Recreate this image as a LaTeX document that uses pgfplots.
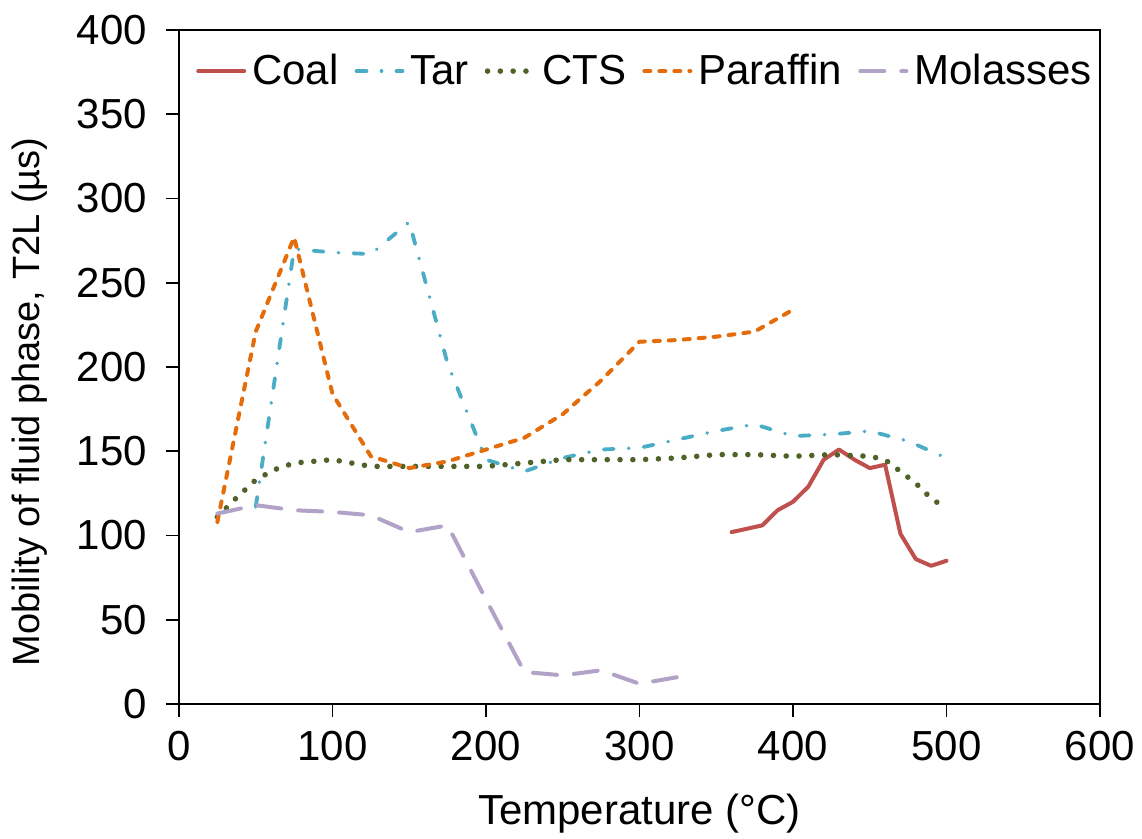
\documentclass[border=0pt]{standalone}
\usepackage{pgfplots}
\pgfplotsset{compat=1.18}
\usepackage{fontspec}
\setmainfont{Liberation Sans}
\definecolor{coal}{HTML}{C0504D}
\definecolor{tar}{HTML}{4BACC6}
\definecolor{cts}{HTML}{4F6228}
\definecolor{paraffin}{HTML}{E46C0A}
\definecolor{molasses}{HTML}{B3A2C7}
\newcommand{\bigf}{\fontsize{21}{25}\selectfont}
\begin{document}
\begin{tikzpicture}
\path (-89.5pt,-67.5pt) rectangle (481.5pt,352pt);
\begin{axis}[
  at={(0,0)}, anchor=south west,
  scale only axis, width=460.5pt, height=337pt,
  xmin=0, xmax=600, ymin=0, ymax=400,
  xtick={0,100,...,600}, ytick={0,50,...,400},
  axis line style={line width=0.9pt},
  tick style={black, line width=0.9pt},
  major tick length=6.5pt, tick align=outside,
  xtick pos=bottom, ytick pos=left,
  /pgf/number format/assume math mode=true,
  tick label style={font=\bigf},
  yticklabel style={xshift=-6pt},
  xticklabel style={yshift=-3.5pt},
  xlabel={Temperature (°C)},
  ylabel={Mobility of fluid phase, T2L (µs)},
  xlabel style={font=\bigf, at={(axis description cs:0.5,0)}, anchor=north, inner sep=0pt, yshift=-45pt},
  ylabel style={font=\fontsize{19}{23}\selectfont, at={(axis description cs:-0.1813,0.448)}, anchor=north, inner sep=0pt, rotate=0},
  legend style={draw=none, fill=none, font=\bigf, legend columns=-1,
    at={(axis description cs:0.5,1)}, anchor=north, xshift=3pt, yshift=-8pt,
    nodes={inner xsep=1.5pt, inner ysep=2pt},
    /tikz/every odd column/.append style={column sep=1.5pt},
    /tikz/every even column/.append style={column sep=6.5pt}},
  legend image code/.code={\draw[#1] (0pt,0pt) -- (23pt,0pt);},
  every axis plot/.append style={line join=round, line cap=round},
]
\addplot[coal, line width=2pt] coordinates {
(360,102) (370,104) (380,106) (390,115) (400,120) (410,129) (420,145) (430,151)
(440,145) (450,140) (460,142) (470,101) (480,86) (490,82) (500,85)};
\addlegendentry{Coal}
\addplot[tar, line width=1.9pt, dash pattern=on 5pt off 7.5pt on 0.01pt off 7.5pt] coordinates {
(50,117) (75,270) (100,268) (125,267) (150,286) (175,202) (200,145) (225,138)
(250,146) (275,151) (300,152) (325,157) (350,162) (375,166) (400,159) (425,160)
(450,162) (475,156) (500,146)};
\addlegendentry{Tar}
\addplot[cts, line width=2.8pt, dash pattern=on 0pt off 6.4pt] coordinates {
(25,111) (37,122) (50,133) (62,139) (75,143) (100,145) (125,141) (150,141)
(175,141) (200,141) (225,143) (250,145) (275,145) (300,145) (325,146) (350,148)
(375,148) (400,147) (425,148) (450,147) (460,145) (470,138) (480,131) (490,122) (500,116)};
\addlegendentry{CTS}
\addplot[paraffin, line width=2pt, dash pattern=on 3pt off 4.5pt] coordinates {
(25,108) (50,221) (75,277) (100,184) (125,147) (150,140) (175,144) (200,151)
(225,158) (250,172) (275,192) (300,215) (325,216) (350,218) (375,221) (400,234)};
\addlegendentry{Paraffin}
\addplot[molasses, line width=2pt, dash pattern=on 12pt off 8.5pt] coordinates {
(25,113) (50,118) (75,115) (100,114) (125,112) (150,102) (175,106) (200,62)
(225,19) (250,17) (275,20) (300,12) (325,16)};
\addlegendentry{Molasses}
\end{axis}
\end{tikzpicture}
\end{document}
